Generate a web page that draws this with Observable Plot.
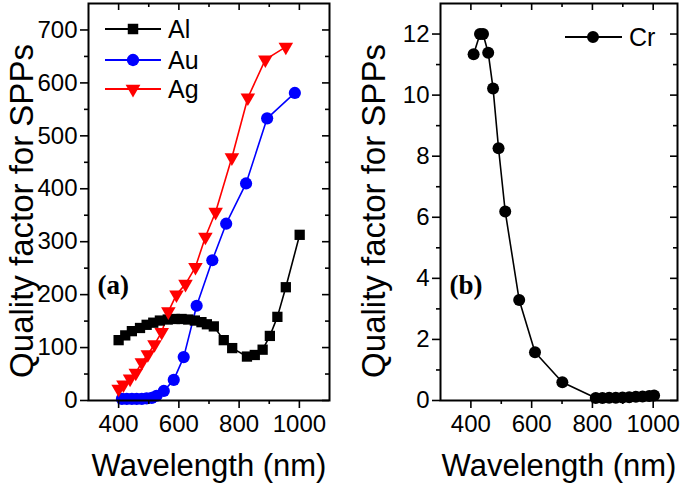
<!DOCTYPE html>
<html><head><meta charset="utf-8">
<script src="https://cdn.jsdelivr.net/npm/d3@7"></script>
<script src="https://cdn.jsdelivr.net/npm/@observablehq/plot@0.6"></script>
<style>
html,body{margin:0;padding:0;background:#fff;}
#wrap{position:relative;width:685px;height:483px;overflow:hidden;font-family:"Liberation Sans",Arial,sans-serif;}
#wrap svg{position:absolute;top:0;}
</style></head><body><div id="wrap"></div>
<script>
// ---- data ----
const alWavelength = [400,422,444,471,493,515,537,563,587,609,631,653,675,693,716,749,777,826,852,878,902,927,955,1001];
const alQuality    = [114,123,131,137,143,147,151,153,154,154,153,151,148,144,140,114,99,83,86,96,122,158,214,313];
const auWavelength = [411,427,444,460,477,493,510,526,550,583,616,659,711,757,823,893,985];
const auQuality    = [3,3,3,3,3,4,5,9,18,39,82,179,265,334,410,533,581];
const agWavelength = [400,416,438,457,477,497,519,543,565,592,622,655,688,722,776,829,887,955];
const agQuality    = [22,30,41,52,72,87,106,129,168,200,220,252,309,356,459,572,644,668];
const crWavelength = [409,430,440,457,473,491,513,559,611,701,811,833,855,877,899,921,943,965,987,1003];
const crQuality    = [11.34,12.0,12.0,11.39,10.22,8.26,6.19,3.29,1.58,0.6,0.08,0.08,0.09,0.09,0.1,0.11,0.12,0.13,0.15,0.16];

const xMajorTicks = [400,600,800,1000];
const xMinorTicks = [500,700,900];
const leftYMajor  = [0,100,200,300,400,500,600,700];
const leftYMinor  = [50,150,250,350,450,550,650];
const rightYMajor = [0,2,4,6,8,10,12];
const rightYMinor = [1,3,5,7,9,11];

const seriesNames = ["Al","Au","Ag"];
const seriesColors = {Al:"#000000", Au:"#0000ff", Ag:"#ff0000"};

const rows = (name, xs, ys) => xs.map((w,i)=>({series:name, wavelength:w, q:ys[i]}));
const leftData = {
  Al: rows("Al", alWavelength, alQuality),
  Au: rows("Au", auWavelength, auQuality),
  Ag: rows("Ag", agWavelength, agQuality)
};
const crData = rows("Cr", crWavelength, crQuality);

const FONT = "Liberation Sans, Arial, sans-serif";
const HEIGHT = 483, MT = 3, MB = 83;
const fmt = d => String(d);

function axes({fw, fh, yMajor, yMinor}) {
  const s = {stroke:"black", strokeWidth:1.6};
  return [
    Plot.ruleX(xMajorTicks, {x:d=>d, insetBottom: fh-7, ...s}),
    Plot.ruleX(xMinorTicks, {x:d=>d, insetBottom: fh-4, ...s}),
    Plot.ruleY(yMajor, {y:d=>d, insetLeft: fw-7, ...s}),
    Plot.ruleY(yMinor, {y:d=>d, insetLeft: fw-4, ...s}),
    Plot.axisX(xMajorTicks, {anchor:"bottom", tickSize:8, tickPadding:6, fontSize:24, tickFormat:fmt, label:null, strokeWidth:1.6, fill:"black"}),
    Plot.axisX(xMinorTicks, {anchor:"bottom", tickSize:4, tickFormat:()=>"", label:null, strokeWidth:1.6}),
    Plot.axisY(yMajor, {anchor:"left", tickSize:8, tickPadding:3, fontSize:24, tickFormat:fmt, label:null, strokeWidth:1.6, fill:"black"}),
    Plot.axisY(yMinor, {anchor:"left", tickSize:4, tickFormat:()=>"", label:null, strokeWidth:1.6}),
    Plot.frame({stroke:"black", strokeWidth:2})
  ];
}

function labels(tag) {
  return [
    Plot.text(["Quality factor for SPPs"], {frameAnchor:"left", textAnchor:"middle", lineAnchor:"middle", rotate:-90, dx:-66, dy:9, fontSize:33, fill:"black"}),
    Plot.text(["Wavelength (nm)"], {frameAnchor:"bottom", textAnchor:"middle", lineAnchor:"middle", dy:66, fontSize:31, fill:"black"}),
    Plot.text([tag], {frameAnchor:"top-left", dx:9, dy:282, textAnchor:"start", lineAnchor:"middle", fontSize:27, fontWeight:"bold", fontFamily:"Liberation Serif, Times New Roman, serif", fill:"black"})
  ];
}

function addLegend(svg, entries) {
  const g = d3.select(svg).append("g");
  for (const e of entries) {
    g.append("line").attr("x1", e.x1).attr("x2", e.x2).attr("y1", e.y).attr("y2", e.y)
      .attr("stroke", e.color).attr("stroke-width", 1.8);
    g.append("path").attr("d", d3.symbol(e.symbol, e.size)())
      .attr("transform", `translate(${e.mx},${e.y}) rotate(${e.rotate||0})`).attr("fill", e.color);
    g.append("text").attr("x", e.tx).attr("y", e.y).attr("dy", "0.36em").attr("text-anchor", "start")
      .attr("font-size", 25).attr("font-family", FONT).attr("fill", "black").text(e.label);
  }
}

// ---- left panel ----
const LW = 342, LML = 88, LMR = 13;
const lfw = LW-LML-LMR, lfh = HEIGHT-MT-MB;
const symbols = {Al:"square", Au:"circle", Ag:"triangle"};
const radius = {Al:5.8, Au:6.1, Ag:5.4};
const left = Plot.plot({
  width: LW, height: HEIGHT, marginLeft: LML, marginRight: LMR, marginTop: MT, marginBottom: MB,
  style: {fontFamily: FONT, background:"white", overflow:"visible"},
  x: {domain:[300,1100], axis:null},
  y: {domain:[0,750], axis:null},
  marks: [
    ...seriesNames.map(n => Plot.line(leftData[n], {x:"wavelength", y:"q", stroke:seriesColors[n], strokeWidth:1.6})),
    ...seriesNames.map(n => Plot.dot(leftData[n], {x:"wavelength", y:"q", fill:seriesColors[n], symbol:symbols[n],
        r: radius[n], rotate: n==="Ag" ? 180 : 0, stroke:"none"})),
    ...axes({fw:lfw, fh:lfh, yMajor:leftYMajor, yMinor:leftYMinor}),
    ...labels("(a)")
  ]
});
left.style.left = "0px";
addLegend(left, [
  {label:"Al", color:"#000", symbol:d3.symbolSquare, size:110, x1:105, x2:161, mx:133, tx:168, y:29},
  {label:"Au", color:"#0000ff", symbol:d3.symbolCircle, size:120, x1:105, x2:161, mx:133, tx:168, y:60},
  {label:"Ag", color:"#ff0000", symbol:d3.symbolTriangle, size:95, rotate:180, x1:105, x2:161, mx:133, tx:168, y:89}
]);

// ---- right panel ----
const RW = 343, RML = 98, RMR = 8;
const rfw = RW-RML-RMR, rfh = HEIGHT-MT-MB;
const right = Plot.plot({
  width: RW, height: HEIGHT, marginLeft: RML, marginRight: RMR, marginTop: MT, marginBottom: MB,
  style: {fontFamily: FONT, background:"white", overflow:"visible"},
  x: {domain:[300,1080], axis:null},
  y: {domain:[0,13], axis:null},
  marks: [
    Plot.line(crData, {x:"wavelength", y:"q", stroke:"black", strokeWidth:1.6}),
    Plot.dot(crData, {x:"wavelength", y:"q", fill:"black", r:6, stroke:"none"}),
    ...axes({fw:rfw, fh:rfh, yMajor:rightYMajor, yMinor:rightYMinor}),
    ...labels("(b)")
  ]
});
right.style.left = "342px";
addLegend(right, [
  {label:"Cr", color:"#000", symbol:d3.symbolCircle, size:113, x1:565-342, x2:622-342, mx:593-342, tx:629-342, y:37}
]);

const wrap = document.getElementById("wrap");
wrap.appendChild(left);
wrap.appendChild(right);
</script>
</body></html>
